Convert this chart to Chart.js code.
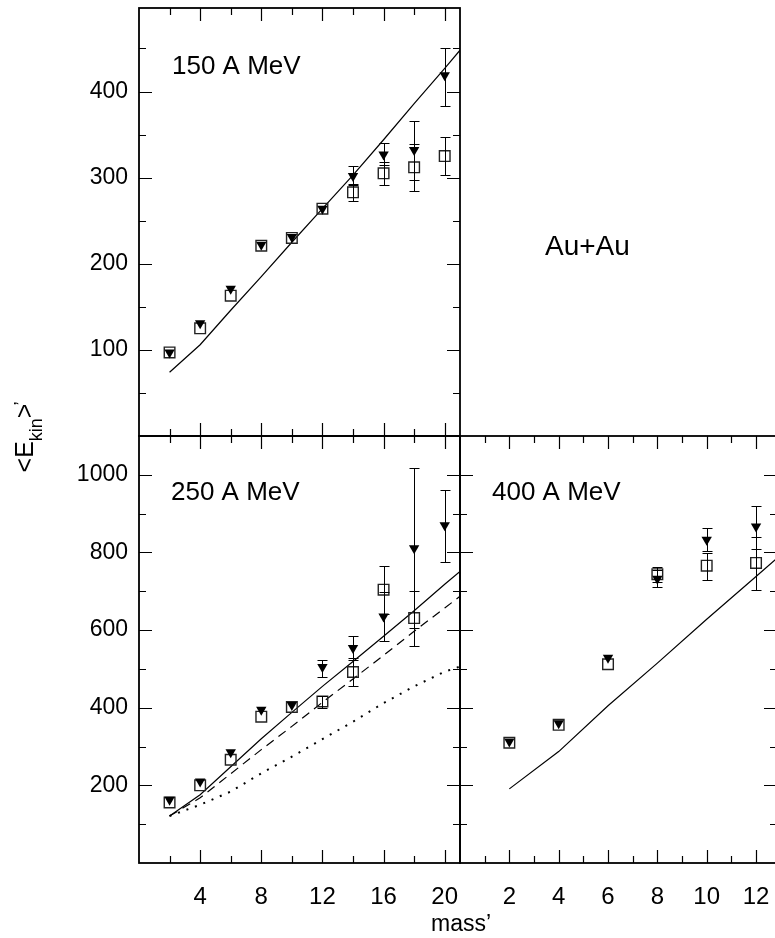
<!DOCTYPE html>
<html>
<head>
<meta charset="utf-8">
<script src="https://cdn.jsdelivr.net/npm/chart.js@4.4.0/dist/chart.umd.min.js"></script>
<style>
  html, body { margin: 0; padding: 0; background: #fff; overflow: hidden; }
  #wrap { position: relative; width: 775px; height: 938px; overflow: hidden; }
  canvas { position: absolute; left: 0; top: 0; }
</style>
</head>
<body>
<div id="wrap">
  <canvas id="c150" width="780" height="938"></canvas>
  <canvas id="c250" width="780" height="938"></canvas>
  <canvas id="c400" width="780" height="938"></canvas>
</div>
<script>
// ---- data ----
const MASS = [2, 4, 6, 8, 10, 12, 14, 16, 18, 20];
const MASS_SQ_250 = [2, 4, 6, 8, 10, 12, 14, 16, 18];
const MASS_400 = [2, 4, 6, 8, 10, 12];

// 150 A MeV
const TRI_150 = [97, 131, 171, 222, 231, 264, 302, 327, 332, 419];
const TRI_150_UP = [0, 0, 0, 0, 0, 0, 11, 13, 34, 32];
const TRI_150_DN = [0, 0, 0, 0, 0, 0, 10, 12, 35, 36];
const SQ_150 = [97, 125, 163, 221, 230, 264, 283, 305, 312, 325];
const SQ_150_UP = [0, 0, 0, 0, 0, 0, 10, 13, 27, 22];
const SQ_150_DN = [0, 0, 0, 0, 0, 0, 10, 13, 28, 22];
const MODEL_MASS_150 = [2, 4, 6, 8, 10, 12, 14, 16, 18, 20, 21];
const MODEL_150 = [74, 106, 146, 185, 225, 264, 303, 344, 386, 427, 448];

// 250 A MeV
const TRI_250 = [163, 210, 285, 395, 407, 505, 554, 635, 811, 870];
const TRI_250_UP = [0, 0, 0, 0, 0, 17, 30, 62, 206, 90];
const TRI_250_DN = [0, 0, 0, 0, 0, 25, 30, 63, 206, 95];
const SQ_250 = [156, 200, 266, 377, 402, 416, 492, 704, 631];
const SQ_250_UP = [0, 0, 0, 0, 0, 15, 36, 62, 70];
const SQ_250_DN = [0, 0, 0, 0, 0, 17, 35, 62, 73];
const MODEL_MASS_250 = [2, 4, 6, 8, 10, 12, 14, 16, 18, 20, 21];
const SOLID_250 = [121, 176, 248, 320, 388, 455, 519, 584, 650, 718, 751];
const DASHED_250 = [121, 168, 230, 292, 352, 414, 474, 535, 597, 657, 687];
const DOTTED_250 = [121, 150, 184, 231, 274, 319, 364, 412, 455, 493, 506];

// 400 A MeV
const TRI_400 = [313, 360, 529, 732, 833, 867];
const TRI_400_UP = [0, 0, 0, 23, 29, 53];
const TRI_400_DN = [0, 0, 0, 20, 30, 58];
const SQ_400 = [310, 356, 512, 744, 766, 773];
const SQ_400_UP = [0, 0, 0, 18, 33, 67];
const SQ_400_DN = [0, 0, 0, 19, 36, 71];
const MODEL_MASS_400 = [2, 4, 6, 8, 10, 12, 12.85];
const MODEL_400 = [191, 287, 405, 515, 628, 738, 785];

// axes
const Y_LABELS_150 = [100, 200, 300, 400];
const Y_LABELS_LOW = [200, 400, 600, 800, 1000];
const X_LABELS_LEFT = [4, 8, 12, 16, 20];
const X_LABELS_400 = [2, 4, 6, 8, 10, 12];
const X_TICKS_LEFT = [2, 4, 6, 8, 10, 12, 14, 16, 18, 20];
const X_TICKS_400 = [1, 2, 3, 4, 5, 6, 7, 8, 9, 10, 11, 12];
const Y_TICKS_150 = [50, 100, 150, 200, 250, 300, 350, 400, 450];
const Y_TICKS_LOW = [100, 200, 300, 400, 500, 600, 700, 800, 900, 1000];

const FONT = "'Liberation Sans', Arial, Helvetica, sans-serif";
const NARROW = "'Liberation Sans Narrow', 'Arial Narrow', 'Liberation Sans', Arial, sans-serif";

const pts = (xs, ys) => xs.map((x, i) => ({ x: x, y: ys[i] }));

// inward ticks, frame and free text
const framePlugin = {
  id: 'frame',
  afterDraw(chart, args, o) {
    const { ctx, chartArea: a } = chart;
    const x = chart.scales.x, y = chart.scales.y;
    ctx.save();
    ctx.strokeStyle = '#000';
    ctx.lineWidth = 1.2;
    ctx.beginPath();
    o.xTicks.forEach(v => {
      const p = Math.round(x.getPixelForValue(v)) + 0.5;
      const len = v % o.xMajor === 0 ? 13 : 7;
      ctx.moveTo(p, a.bottom); ctx.lineTo(p, a.bottom - len);
      ctx.moveTo(p, a.top); ctx.lineTo(p, a.top + len);
    });
    o.yTicks.forEach(v => {
      const p = Math.round(y.getPixelForValue(v)) + 0.5;
      const len = v % o.yMajor === 0 ? 13 : 7;
      ctx.moveTo(a.left, p); ctx.lineTo(a.left + len, p);
      ctx.moveTo(a.right, p); ctx.lineTo(a.right - len, p);
    });
    ctx.stroke();
    ctx.lineWidth = 1.8;
    ctx.strokeRect(a.left, a.top, a.right - a.left, a.bottom - a.top);
    ctx.fillStyle = '#000';
    ctx.textBaseline = 'alphabetic';
    (o.texts || []).forEach(t => {
      ctx.font = t.font;
      ctx.textAlign = t.align || 'left';
      ctx.fillText(t.text, t.x, t.y);
    });
    if (o.yTitle) {
      ctx.save();
      ctx.translate(33, 436);
      ctx.rotate(-Math.PI / 2);
      const big = '25px ' + FONT, small = '18px ' + FONT;
      ctx.font = big; const w1 = ctx.measureText('<E').width;
      ctx.font = small; const w2 = ctx.measureText('kin').width;
      ctx.font = big; const w3 = ctx.measureText('>').width;
      const w4 = 4;
      let cx = -(w1 + w2 + w3 + w4) / 2;
      ctx.textAlign = 'left';
      ctx.font = big; ctx.fillText('<E', cx, 0); cx += w1;
      ctx.font = small; ctx.fillText('kin', cx, 9); cx += w2;
      ctx.font = big; ctx.fillText('>', cx, 0); cx += w3;
      ctx.font = small; ctx.fillText('\u2019', cx - 2, -6);
      ctx.restore();
    }
    ctx.restore();
  }
};

const errorBarPlugin = {
  id: 'errbars',
  afterDatasetsDraw(chart) {
    const { ctx } = chart;
    const y = chart.scales.y;
    ctx.save();
    ctx.strokeStyle = '#000';
    ctx.lineWidth = 1;
    chart.data.datasets.forEach((ds, i) => {
      if (!ds.errUp) return;
      const meta = chart.getDatasetMeta(i);
      meta.data.forEach((el, j) => {
        const up = ds.errUp[j], dn = ds.errDn[j];
        if (!up && !dn) return;
        const v = ds.data[j].y;
        const px = Math.round(el.x) + 0.5;
        const yt = Math.round(y.getPixelForValue(v + up)) + 0.5;
        const yb = Math.round(y.getPixelForValue(v - dn)) + 0.5;
        ctx.beginPath();
        ctx.moveTo(px, yt); ctx.lineTo(px, yb);
        ctx.moveTo(px - 5, yt); ctx.lineTo(px + 5, yt);
        ctx.moveTo(px - 5, yb); ctx.lineTo(px + 5, yb);
        ctx.stroke();
      });
    });
    ctx.restore();
  }
};

function triSet(xs, ys, up, dn) {
  return {
    data: pts(xs, ys), errUp: up, errDn: dn,
    pointStyle: 'triangle', rotation: 180, pointRadius: 6,
    backgroundColor: '#000', borderColor: '#000', borderWidth: 0, showLine: false
  };
}
function sqSet(xs, ys, up, dn) {
  return {
    data: pts(xs, ys), errUp: up, errDn: dn,
    pointStyle: 'rect', pointRadius: 7.5,
    backgroundColor: 'rgba(0,0,0,0)', borderColor: '#222', borderWidth: 1.4, showLine: false
  };
}
function lineSet(xs, ys, dash, width) {
  return {
    data: pts(xs, ys), showLine: true, pointRadius: 0,
    borderColor: '#000', borderWidth: width || 1.2, borderDash: dash || [],
    tension: 0, fill: false
  };
}

function yAxis(min, max, labels, show) {
  return {
    type: 'linear', min: min, max: max, display: show,
    afterFit: s => { s.width = show ? 139 : 0; s.paddingTop = 0; s.paddingBottom = 0; },
    afterBuildTicks: s => { s.ticks = labels.map(v => ({ value: v })); },
    grid: { display: false, drawTicks: false },
    border: { display: false },
    ticks: { padding: 11, color: '#000', font: { family: FONT, size: 23 }, callback: v => String(v) }
  };
}
function xAxis(min, max, labels, show) {
  return {
    type: 'linear', min: min, max: max, display: show,
    afterFit: s => { s.height = show ? 60 : 0; s.paddingLeft = 0; s.paddingRight = 0; },
    afterBuildTicks: s => { s.ticks = labels.map(v => ({ value: v })); },
    grid: { display: false, drawTicks: false },
    border: { display: false },
    ticks: { padding: 20, color: '#000', maxRotation: 0, autoSkip: false,
             font: { family: NARROW, size: 24 }, callback: v => String(v) }
  };
}

function makeChart(id, datasets, scales, padding, frame) {
  return new Chart(document.getElementById(id), {
    type: 'scatter',
    data: { datasets: datasets },
    options: {
      responsive: false, animation: false, events: [],
      layout: { padding: padding, autoPadding: false },
      scales: scales,
      plugins: { legend: { display: false }, tooltip: { enabled: false }, frame: frame }
    },
    plugins: [framePlugin, errorBarPlugin]
  });
}

// 150 A MeV (top left)
makeChart('c150', [
  triSet(MASS, TRI_150, TRI_150_UP, TRI_150_DN),
  sqSet(MASS, SQ_150, SQ_150_UP, SQ_150_DN),
  lineSet(MODEL_MASS_150, MODEL_150)
], {
  x: xAxis(0, 21, X_LABELS_LEFT, false),
  y: yAxis(0, 497, Y_LABELS_150, true)
}, { left: 0, top: 8, right: 320, bottom: 502 }, {
  xTicks: X_TICKS_LEFT, xMajor: 4, yTicks: Y_TICKS_150, yMajor: 100, yTitle: true,
  texts: [
    { text: '150 A MeV', x: 172, y: 74, font: '26px ' + FONT },
    { text: 'Au+Au', x: 545, y: 255, font: '28px ' + FONT }
  ]
});

// 250 A MeV (bottom left)
makeChart('c250', [
  triSet(MASS, TRI_250, TRI_250_UP, TRI_250_DN),
  sqSet(MASS_SQ_250, SQ_250, SQ_250_UP, SQ_250_DN),
  lineSet(MODEL_MASS_250, SOLID_250),
  lineSet(MODEL_MASS_250, DASHED_250, [9, 6]),
  lineSet(MODEL_MASS_250, DOTTED_250, [2, 7], 2)
], {
  x: xAxis(0, 21, X_LABELS_LEFT, true),
  y: yAxis(0, 1100, Y_LABELS_LOW, true)
}, { left: 0, top: 436, right: 320, bottom: 15 }, {
  xTicks: X_TICKS_LEFT, xMajor: 4, yTicks: Y_TICKS_LOW, yMajor: 200,
  texts: [
    { text: '250 A MeV', x: 171, y: 500, font: '26px ' + FONT },
    { text: 'mass\u2019', x: 461, y: 931, font: '23px ' + NARROW, align: 'center' }
  ]
});

// 400 A MeV (bottom right)
makeChart('c400', [
  triSet(MASS_400, TRI_400, TRI_400_UP, TRI_400_DN),
  sqSet(MASS_400, SQ_400, SQ_400_UP, SQ_400_DN),
  lineSet(MODEL_MASS_400, MODEL_400)
], {
  x: xAxis(0, 12.85, X_LABELS_400, true),
  y: yAxis(0, 1100, Y_LABELS_LOW, false)
}, { left: 460, top: 436, right: 3, bottom: 15 }, {
  xTicks: X_TICKS_400, xMajor: 2, yTicks: Y_TICKS_LOW, yMajor: 200,
  texts: [
    { text: '400 A MeV', x: 492, y: 500, font: '26px ' + FONT }
  ]
});
</script>
</body>
</html>
